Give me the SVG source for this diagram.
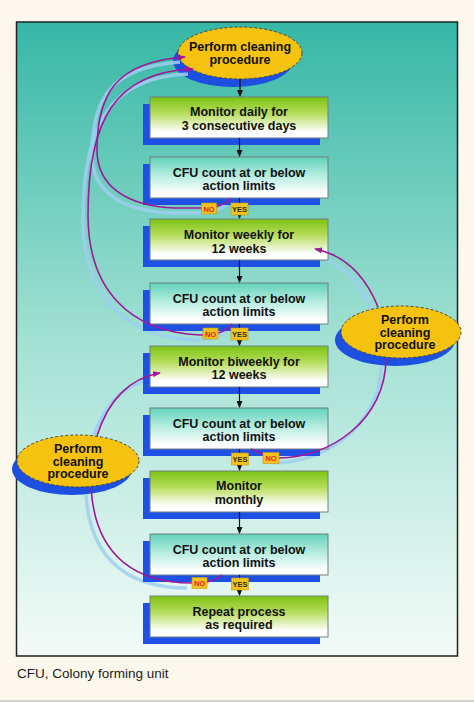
<svg xmlns="http://www.w3.org/2000/svg" width="474" height="702" viewBox="0 0 474 702">
<defs>
<linearGradient id="gBg" x1="0" y1="0" x2="0" y2="1">
<stop offset="0" stop-color="#36b7a6"/><stop offset="0.5" stop-color="#a2e1d3"/><stop offset="1" stop-color="#f4fbf9"/>
</linearGradient>
<linearGradient id="gMon" x1="0" y1="0" x2="0" y2="1">
<stop offset="0" stop-color="#7cc212"/><stop offset="0.4" stop-color="#b6dd5c"/><stop offset="0.85" stop-color="#ffffff"/>
</linearGradient>
<linearGradient id="gCfu" x1="0" y1="0" x2="0" y2="1">
<stop offset="0" stop-color="#62d2b8"/><stop offset="0.45" stop-color="#b5ecdf"/><stop offset="0.9" stop-color="#ffffff"/>
</linearGradient>
<marker id="mk" markerWidth="7" markerHeight="6" refX="6" refY="3" orient="auto" markerUnits="userSpaceOnUse">
<path d="M0,0 L7,3 L0,6 Z" fill="#111"/>
</marker>
<marker id="mm" markerWidth="8" markerHeight="6" refX="7" refY="3" orient="auto" markerUnits="userSpaceOnUse">
<path d="M0,0 L8,3 L0,6 Z" fill="#a0189a"/>
</marker>
<style>
.sh{fill:#1f50e6}
.bx{stroke:#6f8080;stroke-width:1}
.mon{fill:url(#gMon)}
.cfu{fill:url(#gCfu)}
.t{font-family:"Liberation Sans",Arial,sans-serif;font-weight:bold;font-size:12.5px;fill:#111;text-anchor:middle}
.ell{fill:#f4c20f;stroke:#4a4a3a;stroke-width:1;stroke-dasharray:3 2}
.esh{fill:#1d4fe0}
.vl{stroke:#111;stroke-width:1.2;fill:none;marker-end:url(#mk)}
.mg{stroke:#a0189a;stroke-width:1.6;fill:none}
.gl{stroke:#9fcfee;stroke-width:3.5;fill:none;opacity:0.85}
.lb{fill:#f2c21e;stroke:#c9960a;stroke-width:0.6}
.no{font-family:"Liberation Sans",Arial,sans-serif;font-weight:bold;font-size:7.5px;fill:#e3262e;text-anchor:middle}
.yes{font-family:"Liberation Sans",Arial,sans-serif;font-weight:bold;font-size:7.5px;fill:#2d2d12;text-anchor:middle}
</style>
</defs>
<rect x="0" y="0" width="474" height="702" fill="#fdf8ed"/>
<rect x="16.5" y="22" width="441" height="634" fill="url(#gBg)" stroke="#222" stroke-width="1.5"/>
<line x1="0" y1="701" x2="474" y2="701" stroke="#b0b0b0" stroke-width="1"/>

<g id="shadows">
<ellipse class="esh" cx="233" cy="61" rx="60" ry="26"/>
<ellipse class="esh" cx="395" cy="340" rx="60" ry="26"/>
<ellipse class="esh" cx="72" cy="469" rx="60" ry="26"/>
<g transform="translate(-5,5)">
<path class="gl" d="M233,198 Q224,206 210,208 L175,208 C125,206 97,185 97,150 C97,95 115,62 185,57"/>
<path class="gl" d="M233,324 Q226,332 214,334 L200,335 C130,332 88,290 88,215 C88,120 115,72 193,69"/>
<path class="gl" d="M279,458 C330,458 386,420 386,360"/>
<path class="gl" d="M378,308 C365,275 345,255 315,249"/>
<path class="gl" d="M192,583 C140,583 95,560 91,489"/>
<path class="gl" d="M97,435 C108,400 130,378 160,373"/>
</g>
</g>

<g id="n0"><ellipse class="ell" cx="240" cy="53" rx="62" ry="26"/>
<text class="t" x="240" y="51">Perform cleaning</text><text class="t" x="240" y="64">procedure</text></g>
<g id="n1"><rect class="sh" x="143" y="104" width="177" height="41"/><rect class="bx mon" x="150" y="97" width="178" height="41"/>
<text class="t" x="239" y="116">Monitor daily for</text><text class="t" x="239" y="129.5">3 consecutive days</text></g>
<g id="n2"><rect class="sh" x="143" y="164" width="177" height="41"/><rect class="bx cfu" x="150" y="157" width="178" height="41"/>
<text class="t" x="239" y="176.5">CFU count at or below</text><text class="t" x="239" y="190">action limits</text></g>
<g id="n3"><rect class="sh" x="143" y="226" width="177" height="41"/><rect class="bx mon" x="150" y="219" width="178" height="41"/>
<text class="t" x="239" y="239">Monitor weekly for</text><text class="t" x="239" y="252.5">12 weeks</text></g>
<g id="n4"><rect class="sh" x="143" y="290" width="177" height="41"/><rect class="bx cfu" x="150" y="283" width="178" height="41"/>
<text class="t" x="239" y="302.5">CFU count at or below</text><text class="t" x="239" y="316">action limits</text></g>
<g id="n5"><rect class="sh" x="143" y="353" width="177" height="41"/><rect class="bx mon" x="150" y="346" width="178" height="41"/>
<text class="t" x="239" y="365.5">Monitor biweekly for</text><text class="t" x="239" y="379">12 weeks</text></g>
<g id="n6"><rect class="sh" x="143" y="415" width="177" height="41"/><rect class="bx cfu" x="150" y="408" width="178" height="41"/>
<text class="t" x="239" y="427.5">CFU count at or below</text><text class="t" x="239" y="441">action limits</text></g>
<g id="n7"><rect class="sh" x="143" y="478" width="177" height="41"/><rect class="bx mon" x="150" y="471" width="178" height="41"/>
<text class="t" x="239" y="490">Monitor</text><text class="t" x="239" y="503.5">monthly</text></g>
<g id="n8"><rect class="sh" x="143" y="541" width="177" height="41"/><rect class="bx cfu" x="150" y="534" width="178" height="41"/>
<text class="t" x="239" y="553.5">CFU count at or below</text><text class="t" x="239" y="567">action limits</text></g>
<g id="n9"><rect class="sh" x="143" y="603" width="177" height="41"/><rect class="bx mon" x="150" y="596" width="178" height="41"/>
<text class="t" x="239" y="615.5">Repeat process</text><text class="t" x="239" y="629">as required</text></g>

<g id="n10"><ellipse class="ell" cx="401" cy="332" rx="60" ry="26"/>
<text class="t" x="405" y="324">Perform</text><text class="t" x="405" y="336.5">cleaning</text><text class="t" x="405" y="349">procedure</text></g>
<g id="n11"><ellipse class="ell" cx="78" cy="461" rx="61" ry="26"/>
<text class="t" x="78" y="453">Perform</text><text class="t" x="78" y="465.5">cleaning</text><text class="t" x="78" y="478">procedure</text></g>

<g id="connectors">
<path class="vl" d="M240,79 L240,96"/>
<path class="vl" d="M239.5,138 L239.5,156"/>
<path class="vl" d="M239.5,198 L239.5,218"/>
<path class="vl" d="M239.5,260 L239.5,282"/>
<path class="vl" d="M239.5,324 L239.5,345"/>
<path class="vl" d="M239.5,387 L239.5,407"/>
<path class="vl" d="M239.5,449 L239.5,470"/>
<path class="vl" d="M239.5,512 L239.5,533"/>
<path class="vl" d="M239.5,575 L239.5,595"/>
<path class="mg" marker-end="url(#mm)" d="M231,198 Q224,206 210,208 L175,208 C125,206 97,185 97,150 C97,95 115,62 185,57"/>
<path class="mg" marker-end="url(#mm)" d="M232,324 Q226,332 214,334 L200,335 C130,332 88,290 88,215 C88,120 115,72 193,69"/>
<path class="mg" d="M251,449 L265,455"/>
<path class="mg" d="M279,458 C330,458 386,420 386,358"/>
<path class="mg" marker-end="url(#mm)" d="M378,307 C365,275 345,255 315,249"/>
<path class="mg" d="M222,575 Q216,580 207,582"/>
<path class="mg" d="M192,583 C140,583 95,560 91,487"/>
<path class="mg" marker-end="url(#mm)" d="M97,436 C108,400 130,378 160,373"/>
</g>

<g id="labels">
<rect class="lb" x="201.5" y="203" width="15" height="11"/><text class="no" x="209" y="211.5">NO</text>
<rect class="lb" x="231" y="203" width="17" height="12"/><text class="yes" x="239.5" y="212">YES</text>
<rect class="lb" x="203" y="328" width="15" height="11"/><text class="no" x="210.5" y="336.5">NO</text>
<rect class="lb" x="231" y="328" width="17" height="12"/><text class="yes" x="239.5" y="337">YES</text>
<rect class="lb" x="231.5" y="453" width="17" height="12"/><text class="yes" x="240" y="462">YES</text>
<rect class="lb" x="263" y="452.5" width="16" height="11"/><text class="no" x="271" y="461">NO</text>
<rect class="lb" x="192" y="577.5" width="15" height="11"/><text class="no" x="199.5" y="586">NO</text>
<rect class="lb" x="231.5" y="578" width="17" height="12"/><text class="yes" x="240" y="587">YES</text>
</g>

<text x="17" y="678" font-family="'Liberation Sans',Arial,sans-serif" font-size="13.5" fill="#1a1a1a">CFU, Colony forming unit</text>
</svg>
